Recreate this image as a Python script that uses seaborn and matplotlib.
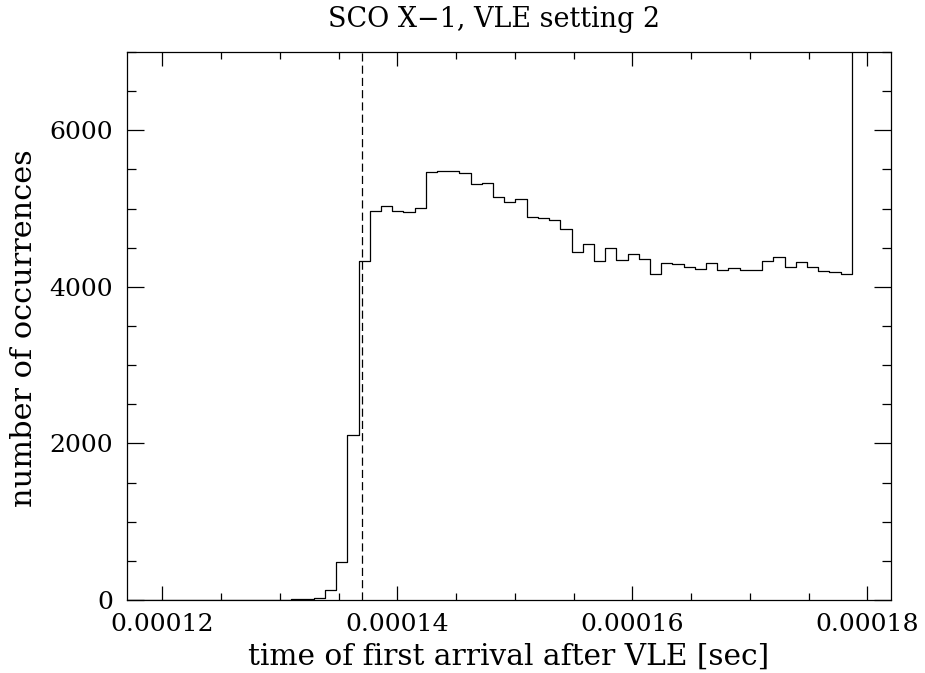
import numpy as np
import pandas as pd
import matplotlib
matplotlib.use("Agg")
import matplotlib.pyplot as plt
import seaborn as sns
from matplotlib.ticker import FixedLocator, FixedFormatter, MultipleLocator

# ---------------- data ----------------
title = "SCO X\u22121, VLE setting 2"
x_label = "time of first arrival after VLE [sec]"
y_label = "number of occurrences"

bin_width = 2.0 ** -20            # seconds
first_edge = 0.0001367 - 21 * bin_width

counts = [
    0, 0, 0, 1, 0, 0, 0, 0, 1, 2, 1, 2, 3, 4, 6,
    15, 18, 25,
    128, 490, 2109,
    4324, 4963, 5027, 4971, 4958, 5001, 5461, 5475, 5480, 5453,
    5312, 5321, 5142, 5078, 5116, 4891, 4878, 4848, 4743, 4443,
    4550, 4330, 4492, 4346, 4418, 4354, 4166, 4303, 4290, 4260,
    4234, 4303, 4217, 4247, 4209, 4209, 4328, 4383, 4252, 4316,
    4252, 4201, 4188, 4163,
    12000, 12000,
]

vle_time = 0.000137

x_major = [0.00012, 0.00014, 0.00016, 0.00018]
x_major_labels = ["0.00012", "0.00014", "0.00016", "0.00018"]
y_major = [0, 2000, 4000, 6000]
y_major_labels = ["0", "2000", "4000", "6000"]

# ---------------- figure ----------------
sns.set_style("white")
plt.rcParams["font.family"] = ["DejaVu Serif"]

edges = [first_edge + bin_width * i for i in range(len(counts) + 1)]
centers = [0.5 * (edges[i] + edges[i + 1]) for i in range(len(counts))]
df = pd.DataFrame({"t": centers, "n": counts})

W, H = 925, 673
fig = plt.figure(figsize=(W / 100, H / 100), dpi=100)
ax = fig.add_axes([127 / W, 73 / H, 764 / W, 548 / H])

sns.histplot(data=df, x="t", weights="n", bins=edges, element="step",
             fill=False, color="black", linewidth=0.9, ax=ax)

ax.axvline(vle_time, color="black", linewidth=0.9, dashes=(6.5, 3.3))

ax.set_xlim(0.000117, 0.000182)
ax.set_ylim(0, 7000)

ax.xaxis.set_major_locator(FixedLocator(x_major))
ax.xaxis.set_major_formatter(FixedFormatter(x_major_labels))
ax.xaxis.set_minor_locator(MultipleLocator(0.000005))
ax.yaxis.set_major_locator(FixedLocator(y_major))
ax.yaxis.set_major_formatter(FixedFormatter(y_major_labels))
ax.yaxis.set_minor_locator(MultipleLocator(500))

for s in ax.spines.values():
    s.set_visible(True)
    s.set_linewidth(0.9)
    s.set_color("black")

# font sizes chosen so each text spans about as many pixels as in the reference
renderer = fig.canvas.get_renderer()


def fit_size(text, target_px, base=17.0):
    probe = fig.text(0, 0, text, fontsize=base)
    w = probe.get_window_extent(renderer).width
    probe.remove()
    return base * target_px / w


fs_xlab = fit_size(x_label, 522)
fs_ylab = fit_size(y_label, 358)
fs_title = fit_size(title, 333)
fs_tick = fit_size("0.00012", 104)

ax.tick_params(axis="both", which="both", direction="in",
               top=True, right=True, bottom=True, left=True,
               color="black", width=0.9, labelsize=fs_tick, labelcolor="black")
ax.tick_params(axis="x", which="major", length=10, pad=31 * 0.72)
ax.tick_params(axis="x", which="minor", length=5)
ax.tick_params(axis="y", which="major", length=12, pad=14 * 0.72)
ax.tick_params(axis="y", which="minor", length=6.5)
for t in ax.xaxis.get_major_ticks():
    t.label1.set_va("baseline")

ax.set_xlabel(x_label, fontsize=fs_xlab, color="black")
ax.xaxis.label.set_va("baseline")
ax.xaxis.set_label_coords(0.5, -(665 - 600) / 548)

ax.set_ylabel(y_label, fontsize=fs_ylab, color="black")
ax.yaxis.label.set_va("baseline")
ax.yaxis.label.set_rotation_mode("anchor")
ax.yaxis.set_label_coords((32 - 127) / 764, (600 - 328) / 548)

fig.text(493.5 / W, 1 - 26.7 / H, title, fontsize=fs_title, ha="center",
         va="baseline", color="black")

fig.savefig("out.png", dpi=100)
